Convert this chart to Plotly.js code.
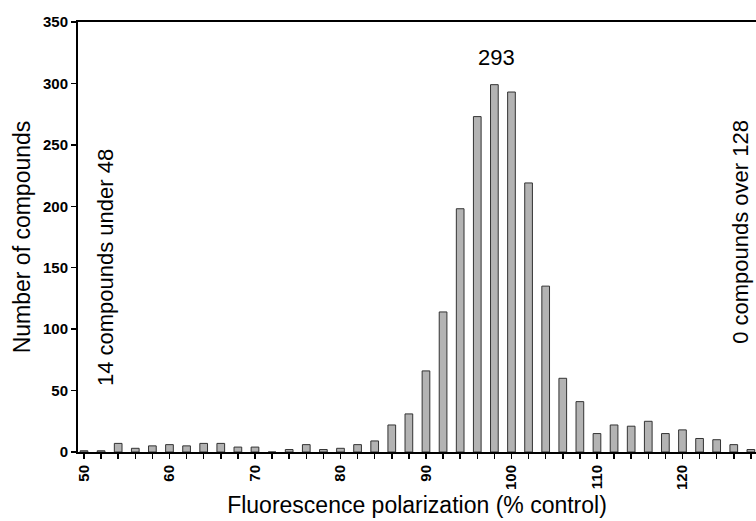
<!DOCTYPE html>
<html>
<head>
<meta charset="utf-8">
<script src="https://cdn.plot.ly/plotly-3.0.1.min.js"></script>
<style>html,body{margin:0;padding:0;background:#fff;}#chart{width:756px;height:521px;}</style>
</head>
<body>
<div id="chart"></div>
<script>
const binCenters = [50,52,54,56,58,60,62,64,66,68,70,72,74,76,78,80,82,84,86,88,90,92,94,96,98,100,102,104,106,108,110,112,114,116,118,120,122,124,126,128];
const counts = [1,1,7,3,5,6,5,7,7,4,4,0,2,6,2,3,6,9,22,31,66,114,198,273,299,293,219,135,60,41,15,22,21,25,15,18,11,10,6,2];
const majorTicks = [50,60,70,80,90,100,110,120];
const yTicks = [0,50,100,150,200,250,300,350];
const peakLabel = "293";
const leftNote = "14 compounds under 48";
const rightNote = "0 compounds over 128";

const font = "Liberation Sans, Arial, sans-serif";
const trace = {
  type: 'bar',
  x: binCenters,
  y: counts,
  width: 0.9,
  marker: {color: '#b3b3b3', line: {color: '#333333', width: 1}},
  hoverinfo: 'x+y'
};
const layout = {
  width: 756, height: 521,
  margin: {l: 78, r: 0, t: 22, b: 69},
  paper_bgcolor: '#fff', plot_bgcolor: '#fff',
  showlegend: false,
  font: {family: font, color: '#000'},
  xaxis: {
    range: [49.3, 128.6],
    tickvals: majorTicks,
    ticktext: majorTicks.map(String),
    tickangle: -90,
    ticks: 'outside', ticklen: 5, tickwidth: 1.5, tickcolor: '#000',
    minor: {dtick: 2, tick0: 50, ticks: 'outside', ticklen: 5, tickwidth: 1.5, tickcolor: '#000'},
    showline: true, linecolor: '#000', linewidth: 2, mirror: true,
    showgrid: false, zeroline: false,
    tickfont: {family: font, size: 15, color: '#000', weight: 'bold'},
    title: {text: 'Fluorescence polarization (% control)', font: {family: font, size: 23, color: '#000'}, standoff: 8}
  },
  yaxis: {
    range: [0, 350],
    tickvals: yTicks,
    ticks: 'outside', ticklen: 5, tickwidth: 1.5, tickcolor: '#000',
    showline: true, linecolor: '#000', linewidth: 2,
    showgrid: false, zeroline: false,
    tickfont: {family: font, size: 15, color: '#000', weight: 'bold'},
    title: {text: 'Number of compounds', font: {family: font, size: 23, color: '#000'}, standoff: 6}
  },
  annotations: [
    {x: 98.2, y: 321, xref: 'x', yref: 'y', text: peakLabel, showarrow: false, font: {family: font, size: 22, color: '#000'}},
    {x: 52.5, y: 150, xref: 'x', yref: 'y', text: leftNote, textangle: -90, showarrow: false, font: {family: font, size: 22, color: '#000'}},
    {x: 126.7, y: 179, xref: 'x', yref: 'y', text: rightNote, textangle: -90, showarrow: false, font: {family: font, size: 22, color: '#000'}}
  ]
};
Plotly.newPlot('chart', [trace], layout, {displayModeBar: false, staticPlot: true});
</script>
</body>
</html>
